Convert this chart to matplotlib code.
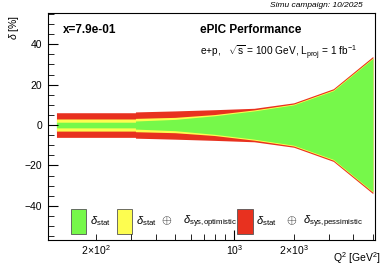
import matplotlib
matplotlib.use("Agg")
import matplotlib.pyplot as plt
import matplotlib.ticker as ticker
from matplotlib.patches import Rectangle
import numpy as np

plt.rcParams['font.family'] = ['Liberation Sans', 'DejaVu Sans']
plt.rcParams['mathtext.fontset'] = 'custom'
plt.rcParams['mathtext.rm'] = 'Liberation Sans'
plt.rcParams['mathtext.it'] = 'Liberation Sans:italic'
plt.rcParams['mathtext.bf'] = 'Liberation Sans:bold'

# Q2 points (GeV^2); 316 repeated for the step in the bands
q2 = [126, 200, 316, 316, 501, 794, 1259, 1995, 3162, 5012]
# half widths of the bands in %
d_stat = [1.4, 1.4, 1.4, 2.0, 2.8, 4.6, 7.0, 10.0, 17.0, 33.0]
d_opt = [3.0, 3.0, 3.0, 3.3, 3.8, 5.2, 7.5, 10.4, 17.4, 33.3]
d_pes = [6.1, 6.1, 6.1, 6.5, 7.0, 7.6, 8.3, 11.0, 18.0, 34.0]

green = '#76f84a'
yellow = '#fdfd50'
red = '#e8311f'

q2 = np.array(q2)
d_stat = np.array(d_stat)
d_opt = np.array(d_opt)
d_pes = np.array(d_pes)

fig = plt.figure(figsize=(3.86, 2.71), dpi=100)
ax = fig.add_axes([0.124, 0.114, 0.848, 0.838])

ax.fill_between(q2, -d_pes, d_pes, color=red, lw=0)
ax.fill_between(q2, -d_opt, d_opt, color=yellow, lw=0)
ax.fill_between(q2, -d_stat, d_stat, color=green, lw=0)

ax.set_xscale('log')
ax.set_xlim(114, 5150)
ax.set_ylim(-57, 55.5)

ax.xaxis.set_major_locator(ticker.FixedLocator([1000]))
ax.xaxis.set_minor_locator(ticker.FixedLocator([200, 300, 400, 500, 600, 700, 800, 900,
                                                2000, 3000, 4000, 5000]))
ax.xaxis.set_major_formatter(ticker.FixedFormatter([r'$10^{3}$']))
ax.xaxis.set_minor_formatter(ticker.FuncFormatter(
    lambda v, p: {200: r'$2\!\times\!10^{2}$', 2000: r'$2\!\times\!10^{3}$'}.get(int(round(v)), '')))
ax.yaxis.set_major_locator(ticker.MultipleLocator(20))
ax.yaxis.set_minor_locator(ticker.MultipleLocator(5))

ax.tick_params(which='both', direction='in', top=False, right=False, labelsize=7.5)
ax.tick_params(axis='x', which='both', pad=2)
ax.tick_params(axis='y', which='both', pad=4)
ax.tick_params(which='major', length=7)
ax.tick_params(which='minor', length=4)

fig.text(0.036, 0.945, r'$\delta$ [%]', fontsize=7.5, rotation=90, ha='center', va='top')
fig.text(0.985, 0.048, r'Q$^{2}$ [GeV$^{2}$]', fontsize=7.5, ha='right', va='center')

ax.text(0.045, 0.95, 'x=7.9e-01', transform=ax.transAxes, fontsize=8.5,
        fontweight='bold', va='top')
ax.text(0.466, 0.95, 'ePIC Performance', transform=ax.transAxes, fontsize=8.5,
        fontweight='bold', va='top')
ax.text(0.466, 0.865, r'e+p,   $\sqrt{\rm s}$ = 100 GeV, L$_{\rm proj}$ = 1 fb$^{-1}$',
        transform=ax.transAxes, fontsize=7.3, va='top')
fig.text(0.94, 0.978, 'Simu campaign: 10/2025', fontsize=6, style='italic',
         ha='right', va='center')

# legend
boxes = [(0.070, green), (0.210, yellow), (0.578, red)]
for x0, c in boxes:
    ax.add_patch(Rectangle((x0, 0.026), 0.048, 0.111, transform=ax.transAxes,
                           facecolor=c, edgecolor='#555555', lw=0.6))
labels = [(0.128, r'$\delta_{\rm stat}$', 8),
          (0.269, r'$\delta_{\rm stat}$', 8),
          (0.347, r'$\oplus$', 9),
          (0.413, r'$\delta_{\rm sys{,}optimistic}$', 8),
          (0.636, r'$\delta_{\rm stat}$', 8),
          (0.729, r'$\oplus$', 9),
          (0.780, r'$\delta_{\rm sys{,}pessimistic}$', 8)]
for x0, t, fs in labels:
    ax.text(x0, 0.082, t, transform=ax.transAxes, fontsize=fs, va='center')

fig.savefig('out.png', dpi=100)
